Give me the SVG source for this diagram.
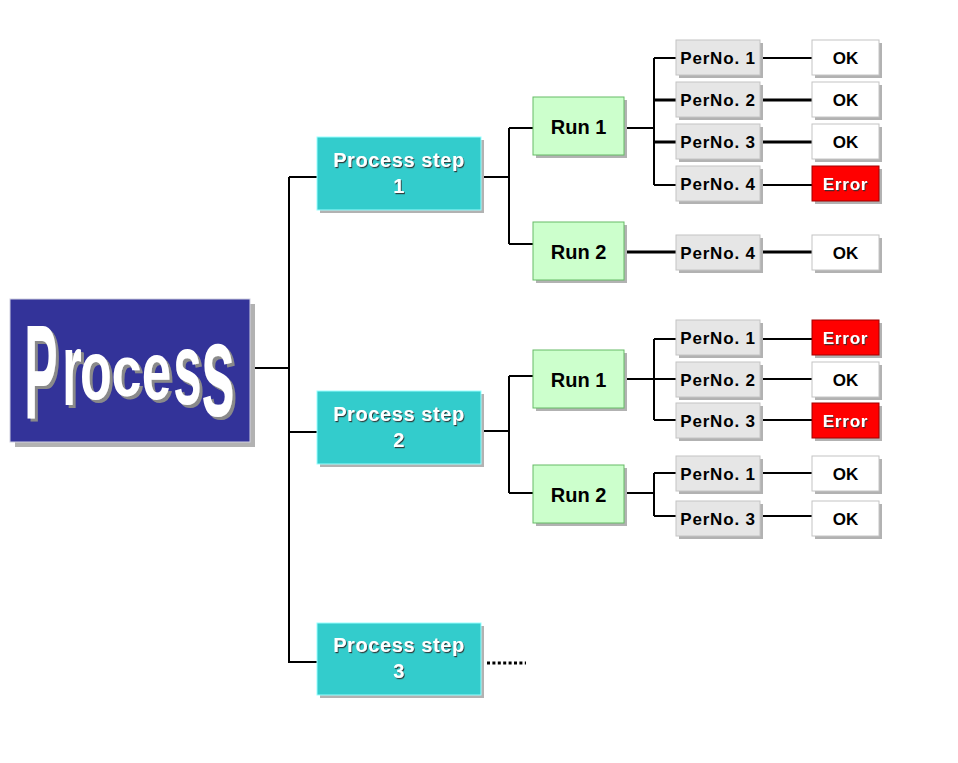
<svg xmlns="http://www.w3.org/2000/svg" width="958" height="763" viewBox="0 0 958 763">
  <defs>
    <filter id="txtShadow" x="-10%" y="-20%" width="130%" height="150%">
      <feDropShadow dx="1" dy="1.2" stdDeviation="0.4" flood-color="#333333" flood-opacity="0.9"/>
    </filter>
    <!-- solid grey extrusion behind the title lettering -->
    <filter id="wordShadow" x="-10%" y="-10%" width="130%" height="130%">
      <feDropShadow dx="3" dy="3" stdDeviation="0.3" flood-color="#8a8a8a" flood-opacity="1"/>
    </filter>
  </defs>
  <style>
    text { font-family: "Liberation Sans", Arial, sans-serif; font-weight: bold; text-anchor: middle; }
    .shadow { fill: #b2b2b2; }
    .main { fill: #333399; stroke: #d0d0e0; stroke-width: 1; }
    .step { fill: #33cccc; stroke: #99ffff; stroke-width: 1; }
    .run { fill: #ccffcc; stroke: #66bb66; stroke-width: 1; }
    .per { fill: #e6e6e6; stroke: #c4c4c4; stroke-width: 1; }
    .ok { fill: #ffffff; stroke: #c4c4c4; stroke-width: 1; }
    .err { fill: #ff0000; stroke: #a00000; stroke-width: 1; }
    .tStep { font-size: 20px; fill: #ffffff; letter-spacing: 0.6px; filter: url(#txtShadow); }
    .tRun { font-size: 20px; fill: #000000; }
    .tPer { font-size: 17px; fill: #000000; letter-spacing: 0.8px; }
    .tOk { font-size: 17px; fill: #000000; }
    .tErr { font-size: 17px; fill: #ffffff; letter-spacing: 0.8px; filter: url(#txtShadow); }
    .big { font-size: 100px; fill: #ffffff; }
    .link { fill: none; stroke: #000000; stroke-width: 2; }
    .bold { stroke-width: 3; }
    .dots { fill: none; stroke: #000000; stroke-width: 3; stroke-dasharray: 3 2.4; }
  </style>

  <rect width="958" height="763" fill="#ffffff"/>

  <!-- connectors -->
  <g id="connectors">
    <path class="link" d="M250,368 H289 M289,177 V663 M289,177 H317 M289,432 H317 M289,662 H317"/>
    <!-- step 1 -->
    <path class="link" d="M481,177 H509 M509,128 V244 M509,128 H533 M509,244 H533"/>
    <path class="link" d="M624,128 H654 M654,58 V185 M654,58 H676 M654,185 H676"/>
    <path class="link bold" d="M654,100 H676 M654,142 H676"/>
    <path class="link" d="M760,58 H812 M760,185 H812"/>
    <path class="link bold" d="M760,100 H812 M760,142 H812"/>
    <path class="link bold" d="M624,252 H676 M760,252 H812"/>
    <!-- step 2 -->
    <path class="link" d="M481,431 H509 M509,376 V493 M509,376 H533 M509,493 H533"/>
    <path class="link" d="M624,379 H654 M654,339 V420 M654,339 H676 M654,379 H676 M654,420 H676"/>
    <path class="link" d="M760,339 H812 M760,379 H812 M760,420 H812"/>
    <path class="link" d="M624,493 H654 M654,473 V516 M654,473 H676 M654,516 H676"/>
    <path class="link" d="M760,473 H812 M760,516 H812"/>
    <!-- step 3 continues -->
    <path class="dots" d="M487,663 H526"/>
  </g>

  <!-- main title box -->
  <g id="process">
    <rect class="shadow" x="15" y="304" width="240" height="143"/>
    <rect class="main" x="10" y="299" width="240" height="143"/>
    <g id="processWord" filter="url(#wordShadow)">
      <text class="big" transform="translate(41,418) scale(0.5,1.34)">P</text>
      <text class="big" transform="translate(72,405) scale(0.5,1.03)">r</text>
      <text class="big" transform="translate(96,399) scale(0.52,0.84)">o</text>
      <text class="big" transform="translate(126.5,396) scale(0.54,0.73)">c</text>
      <text class="big" transform="translate(156.5,399) scale(0.53,0.81)">e</text>
      <text class="big" transform="translate(187.5,404) scale(0.51,1.02)">s</text>
      <text class="big" transform="translate(218,416) scale(0.61,1.33)">s</text>
    </g>
  </g>

  <!-- process steps -->
  <g id="step1">
    <rect class="shadow" x="320" y="140" width="164" height="73"/>
    <rect class="step" x="317" y="137" width="164" height="73"/>
    <text class="tStep" x="399" y="167">Process step</text>
    <text class="tStep" x="399" y="193">1</text>
  </g>
  <g id="step2">
    <rect class="shadow" x="320" y="394" width="164" height="73"/>
    <rect class="step" x="317" y="391" width="164" height="73"/>
    <text class="tStep" x="399" y="421">Process step</text>
    <text class="tStep" x="399" y="447">2</text>
  </g>
  <g id="step3">
    <rect class="shadow" x="320" y="626" width="164" height="72"/>
    <rect class="step" x="317" y="623" width="164" height="72"/>
    <text class="tStep" x="399" y="652">Process step</text>
    <text class="tStep" x="399" y="678">3</text>
  </g>

  <!-- runs -->
  <g id="s1run1">
    <rect class="shadow" x="536" y="100" width="91" height="58"/>
    <rect class="run" x="533" y="97" width="91" height="58"/>
    <text class="tRun" x="578.5" y="133.5">Run 1</text>
  </g>
  <g id="s1run2">
    <rect class="shadow" x="536" y="225" width="91" height="58"/>
    <rect class="run" x="533" y="222" width="91" height="58"/>
    <text class="tRun" x="578.5" y="258.5">Run 2</text>
  </g>
  <g id="s2run1">
    <rect class="shadow" x="536" y="353" width="91" height="58"/>
    <rect class="run" x="533" y="350" width="91" height="58"/>
    <text class="tRun" x="578.5" y="386.5">Run 1</text>
  </g>
  <g id="s2run2">
    <rect class="shadow" x="536" y="468" width="91" height="58"/>
    <rect class="run" x="533" y="465" width="91" height="58"/>
    <text class="tRun" x="578.5" y="501.5">Run 2</text>
  </g>

  <!-- step 1 / run 1 personnel numbers -->
  <g id="s1r1p1">
    <rect class="shadow" x="679" y="43" width="84" height="35"/>
    <rect class="per" x="676" y="40" width="84" height="35"/>
    <text class="tPer" x="718" y="63.5">PerNo. 1</text>
  </g>
  <g id="s1r1p2">
    <rect class="shadow" x="679" y="85" width="84" height="35"/>
    <rect class="per" x="676" y="82" width="84" height="35"/>
    <text class="tPer" x="718" y="105.5">PerNo. 2</text>
  </g>
  <g id="s1r1p3">
    <rect class="shadow" x="679" y="127" width="84" height="35"/>
    <rect class="per" x="676" y="124" width="84" height="35"/>
    <text class="tPer" x="718" y="147.5">PerNo. 3</text>
  </g>
  <g id="s1r1p4">
    <rect class="shadow" x="679" y="169" width="84" height="35"/>
    <rect class="per" x="676" y="166" width="84" height="35"/>
    <text class="tPer" x="718" y="189.5">PerNo. 4</text>
  </g>
  <g id="s1r1p1res">
    <rect class="shadow" x="815" y="43" width="67" height="35"/>
    <rect class="ok" x="812" y="40" width="67" height="35"/>
    <text class="tOk" x="845.5" y="63.5">OK</text>
  </g>
  <g id="s1r1p2res">
    <rect class="shadow" x="815" y="85" width="67" height="35"/>
    <rect class="ok" x="812" y="82" width="67" height="35"/>
    <text class="tOk" x="845.5" y="105.5">OK</text>
  </g>
  <g id="s1r1p3res">
    <rect class="shadow" x="815" y="127" width="67" height="35"/>
    <rect class="ok" x="812" y="124" width="67" height="35"/>
    <text class="tOk" x="845.5" y="147.5">OK</text>
  </g>
  <g id="s1r1p4res">
    <rect class="shadow" x="815" y="169" width="67" height="35"/>
    <rect class="err" x="812" y="166" width="67" height="35"/>
    <text class="tErr" x="845.5" y="189.5">Error</text>
  </g>

  <!-- step 1 / run 2 -->
  <g id="s1r2p4">
    <rect class="shadow" x="679" y="238" width="84" height="35"/>
    <rect class="per" x="676" y="235" width="84" height="35"/>
    <text class="tPer" x="718" y="258.5">PerNo. 4</text>
  </g>
  <g id="s1r2p4res">
    <rect class="shadow" x="815" y="238" width="67" height="35"/>
    <rect class="ok" x="812" y="235" width="67" height="35"/>
    <text class="tOk" x="845.5" y="258.5">OK</text>
  </g>

  <!-- step 2 / run 1 -->
  <g id="s2r1p1">
    <rect class="shadow" x="679" y="323" width="84" height="35"/>
    <rect class="per" x="676" y="320" width="84" height="35"/>
    <text class="tPer" x="718" y="343.5">PerNo. 1</text>
  </g>
  <g id="s2r1p2">
    <rect class="shadow" x="679" y="365" width="84" height="35"/>
    <rect class="per" x="676" y="362" width="84" height="35"/>
    <text class="tPer" x="718" y="385.5">PerNo. 2</text>
  </g>
  <g id="s2r1p3">
    <rect class="shadow" x="679" y="406" width="84" height="35"/>
    <rect class="per" x="676" y="403" width="84" height="35"/>
    <text class="tPer" x="718" y="426.5">PerNo. 3</text>
  </g>
  <g id="s2r1p1res">
    <rect class="shadow" x="815" y="323" width="67" height="35"/>
    <rect class="err" x="812" y="320" width="67" height="35"/>
    <text class="tErr" x="845.5" y="343.5">Error</text>
  </g>
  <g id="s2r1p2res">
    <rect class="shadow" x="815" y="365" width="67" height="35"/>
    <rect class="ok" x="812" y="362" width="67" height="35"/>
    <text class="tOk" x="845.5" y="385.5">OK</text>
  </g>
  <g id="s2r1p3res">
    <rect class="shadow" x="815" y="406" width="67" height="35"/>
    <rect class="err" x="812" y="403" width="67" height="35"/>
    <text class="tErr" x="845.5" y="426.5">Error</text>
  </g>

  <!-- step 2 / run 2 -->
  <g id="s2r2p1">
    <rect class="shadow" x="679" y="459" width="84" height="35"/>
    <rect class="per" x="676" y="456" width="84" height="35"/>
    <text class="tPer" x="718" y="479.5">PerNo. 1</text>
  </g>
  <g id="s2r2p3">
    <rect class="shadow" x="679" y="504" width="84" height="35"/>
    <rect class="per" x="676" y="501" width="84" height="35"/>
    <text class="tPer" x="718" y="524.5">PerNo. 3</text>
  </g>
  <g id="s2r2p1res">
    <rect class="shadow" x="815" y="459" width="67" height="35"/>
    <rect class="ok" x="812" y="456" width="67" height="35"/>
    <text class="tOk" x="845.5" y="479.5">OK</text>
  </g>
  <g id="s2r2p3res">
    <rect class="shadow" x="815" y="504" width="67" height="35"/>
    <rect class="ok" x="812" y="501" width="67" height="35"/>
    <text class="tOk" x="845.5" y="524.5">OK</text>
  </g>
</svg>
